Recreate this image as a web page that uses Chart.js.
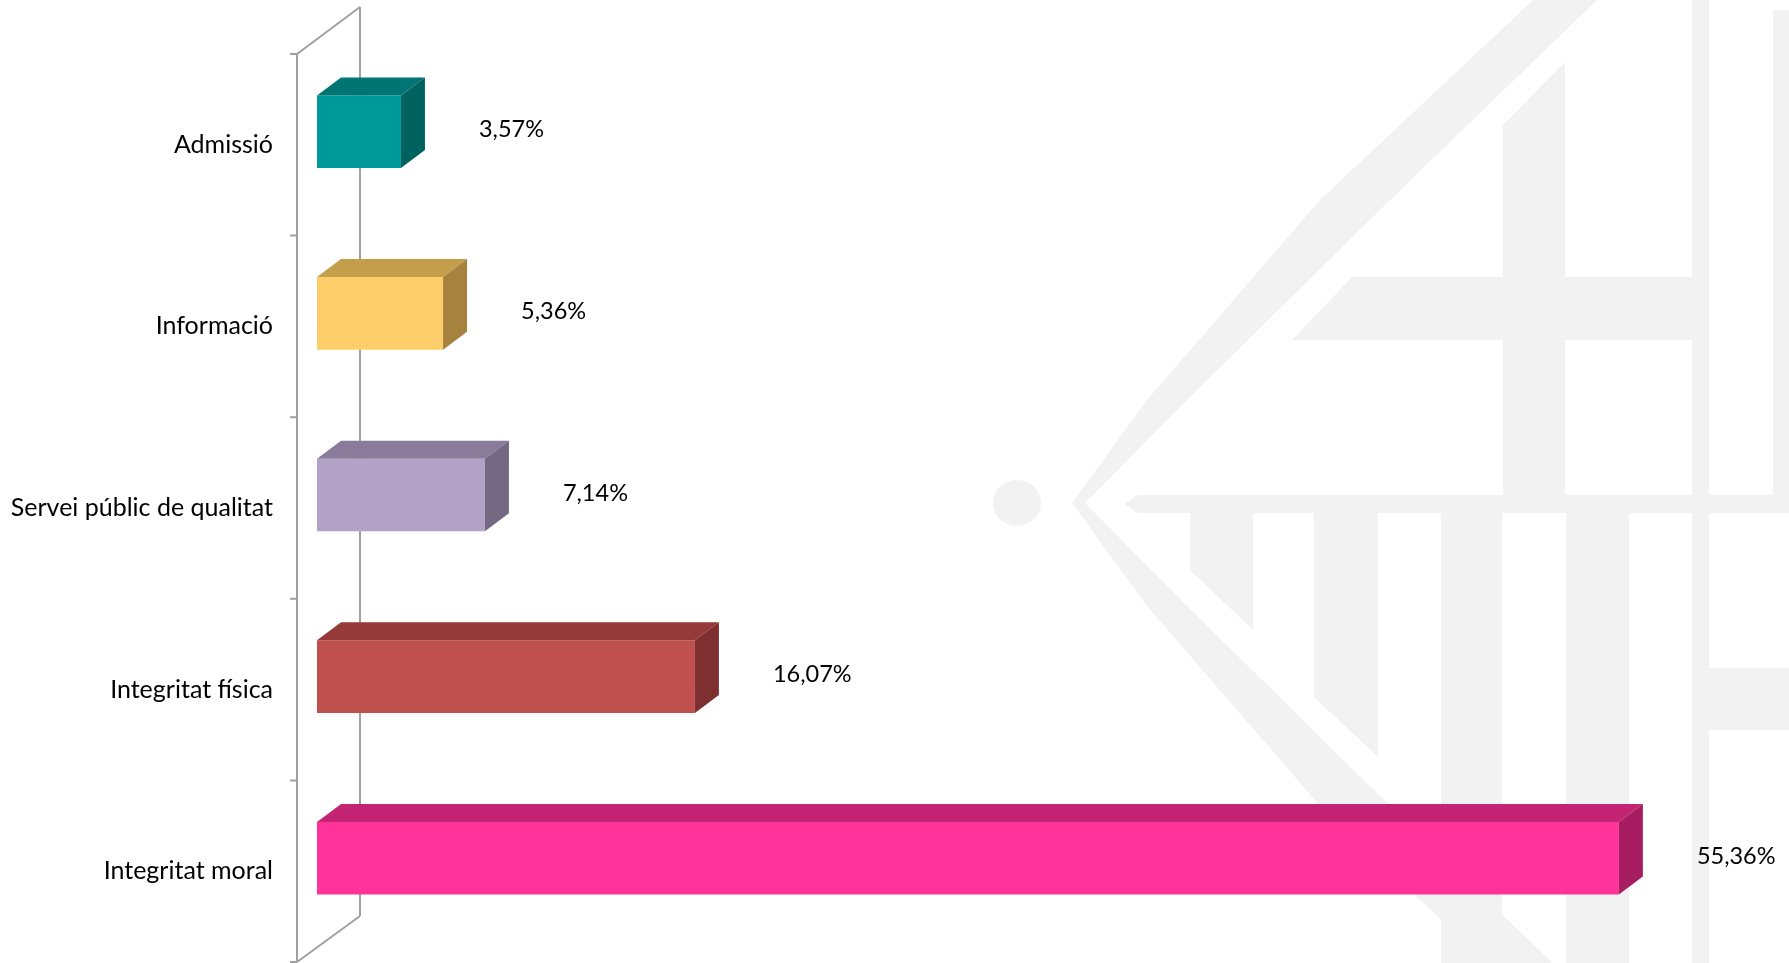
<!DOCTYPE html>
<html>
<head>
<meta charset="utf-8">
<script src="https://cdn.jsdelivr.net/npm/chart.js@4"></script>
<style>
  html, body { margin: 0; padding: 0; background: #fff; }
  #wrap { width: 1789px; height: 963px; position: relative; }
</style>
</head>
<body>
<div id="wrap"><canvas id="chart"></canvas></div>
<script>
// Data
const categories = ['Admissió', 'Informació', 'Servei públic de qualitat', 'Integritat física', 'Integritat moral'];
const values = [3.57, 5.36, 7.14, 16.07, 55.36];

// Face colours for the fake 3D bars
const frontColors = ['#00999a', '#fdcd6a', '#b3a2c8', '#c0504d', '#ff3399'];
const topColors   = ['#007573', '#c49e4b', '#8a7b9b', '#953a39', '#c42474'];
const sideColors  = ['#00625f', '#a6823f', '#746882', '#7d302f', '#a61d62'];

const FONT = 'Lato, "Liberation Sans", sans-serif';
const DEPTH_X = 24;
const DEPTH_Y = -18;

function poly(ctx, pts) {
    ctx.beginPath();
    ctx.moveTo(pts[0][0], pts[0][1]);
    for (let i = 1; i < pts.length; i++) ctx.lineTo(pts[i][0], pts[i][1]);
    ctx.closePath();
    ctx.fill();
}

// faint city logo in the background
function drawWatermark(ctx) {
    ctx.save();
    ctx.fillStyle = '#f2f2f2';
    ctx.beginPath();
    ctx.ellipse(1017, 503, 24, 23, 0, 0, Math.PI * 2);
    ctx.fill();
    // chevron
    poly(ctx, [[1533, 0], [1320, 200], [1147, 400], [1072, 503], [1147, 606], [1320, 806], [1533, 1006],
               [1597, 1006], [1390, 806], [1187, 606], [1085, 503], [1187, 400], [1390, 200], [1597, 0]]);
    // upper cross band + bar
    poly(ctx, [[1352, 277], [1692, 277], [1692, 340], [1292, 340]]);
    poly(ctx, [[1565, 62], [1565, 495], [1503, 495], [1503, 125]]);
    // right bars
    poly(ctx, [[1692, 0], [1709, 0], [1709, 963], [1692, 963]]);
    poly(ctx, [[1773, 10], [1789, 10], [1789, 495], [1773, 495]]);
    poly(ctx, [[1709, 668], [1789, 668], [1789, 730], [1709, 730]]);
    // lower band
    poly(ctx, [[1137, 495], [1789, 495], [1789, 513], [1137, 513], [1125, 504]]);
    // lower bars
    poly(ctx, [[1190, 513], [1253, 513], [1253, 630], [1190, 570]]);
    poly(ctx, [[1314, 513], [1378, 513], [1378, 757], [1314, 697]]);
    poly(ctx, [[1441, 513], [1502, 513], [1502, 963], [1441, 963]]);
    poly(ctx, [[1566, 513], [1629, 513], [1629, 963], [1566, 963]]);
    ctx.restore();
}

const bar3d = {
    id: 'bar3d',
    beforeDraw(chart) {
        drawWatermark(chart.ctx);
    },
    beforeDatasetsDraw(chart) {
        // 3D axis walls
        const ctx = chart.ctx;
        const a = chart.chartArea;
        const fx = a.left - 20, bx = a.left + 43;
        const ft = a.top + 13, fb = a.bottom + 13;
        const bt = a.top - 34, bb = a.bottom - 33;
        ctx.save();
        ctx.strokeStyle = '#a0a0a0';
        ctx.lineWidth = 2;
        ctx.beginPath();
        ctx.moveTo(bx, bt); ctx.lineTo(bx, bb);
        ctx.moveTo(fx, ft); ctx.lineTo(fx, fb);
        ctx.moveTo(fx, ft); ctx.lineTo(bx, bt);
        ctx.moveTo(fx, fb); ctx.lineTo(bx, bb);
        const n = categories.length;
        for (let i = 0; i <= n; i++) {
            const ty = ft + i * (fb - ft) / n;
            ctx.moveTo(fx - 7, ty); ctx.lineTo(fx, ty);
        }
        ctx.stroke();
        ctx.restore();
    },
    afterDatasetsDraw(chart) {
        const ctx = chart.ctx;
        const meta = chart.getDatasetMeta(0);
        ctx.save();
        meta.data.forEach((bar, i) => {
            const p = bar.getProps(['x', 'y', 'base', 'height'], true);
            const top = p.y - p.height / 2;
            const bottom = p.y + p.height / 2;
            ctx.fillStyle = topColors[i];
            poly(ctx, [[p.base, top], [p.x, top], [p.x + DEPTH_X, top + DEPTH_Y], [p.base + DEPTH_X, top + DEPTH_Y]]);
            ctx.fillStyle = sideColors[i];
            poly(ctx, [[p.x, top], [p.x + DEPTH_X, top + DEPTH_Y], [p.x + DEPTH_X, bottom + DEPTH_Y], [p.x, bottom]]);

            // value label
            ctx.fillStyle = '#000';
            ctx.font = '23.5px ' + FONT;
            ctx.textAlign = 'left';
            ctx.textBaseline = 'middle';
            ctx.fillText(values[i].toFixed(2).replace('.', ',') + '%', p.x + 78, p.y - 2);
        });
        ctx.restore();
    }
};

const ctx = document.getElementById('chart').getContext('2d');
new Chart(ctx, {
    type: 'bar',
    data: {
        labels: categories,
        datasets: [{
            data: values,
            backgroundColor: frontColors,
            borderWidth: 0,
            barPercentage: 0.4,
            categoryPercentage: 1.0
        }]
    },
    options: {
        indexAxis: 'y',
        responsive: true,
        maintainAspectRatio: false,
        animation: false,
        layout: { padding: { left: 0, right: 61, top: 41, bottom: 14 } },
        plugins: {
            legend: { display: false },
            tooltip: { enabled: false }
        },
        scales: {
            x: { display: false, min: 0, max: 60 },
            y: {
                grid: { display: false, drawTicks: false },
                border: { display: false },
                ticks: {
                    color: '#000',
                    font: { family: FONT, size: 25 },
                    padding: 44,
                    labelOffset: 13
                },
                afterFit(scale) {
                    scale.width = 317;
                    scale.paddingTop = 0;
                    scale.paddingBottom = 0;
                }
            }
        }
    },
    plugins: [bar3d]
});
</script>
</body>
</html>
